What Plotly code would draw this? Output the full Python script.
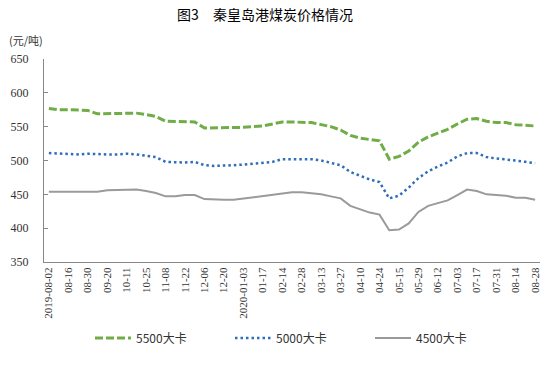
import plotly.graph_objects as go

dates = [
    "2019-08-02", "2019-08-09", "08-16", "08-23", "08-30", "09-06",
    "09-20", "09-27", "10-11", "10-18", "10-25", "11-01",
    "11-08", "11-15", "11-22", "11-29", "12-06", "12-13",
    "12-20", "12-27", "2020-01-03", "01-10", "01-17", "02-07",
    "02-14", "02-21", "02-28", "03-06", "03-13", "03-20",
    "03-27", "04-03", "04-10", "04-17", "04-24", "05-08",
    "05-15", "05-22", "05-29", "06-05", "06-12", "06-19",
    "07-03", "07-10", "07-17", "07-24", "07-31", "08-07",
    "08-14", "08-21", "08-28",
]

kcal5500 = [577, 575, 575, 575, 574, 569, 569, 570, 570, 570, 568, 565,
            558, 558, 558, 557, 548, 548, 548, 549, 549, 550, 551, 554,
            557, 557, 557, 556, 553, 550, 545, 537, 533, 531, 529, 502,
            506, 514, 527, 535, 540, 546, 554, 561, 562, 558, 556, 556,
            553, 552, 551]

kcal5000 = [511, 510, 509, 509, 510, 509, 509, 509, 510, 509, 507, 505,
            498, 497, 497, 498, 493, 492, 492, 493, 494, 495, 496, 498,
            502, 502, 502, 502, 500, 497, 493, 483, 477, 472, 468, 444,
            448, 460, 474, 484, 491, 497, 506, 511, 511, 505, 503, 502,
            500, 498, 496]

kcal4500 = [454, 454, 454, 455, 455, 454, 456, 456, 457, 457, 455, 452,
            447, 447, 449, 449, 443, 442, 442, 442, 444, 445, 447, 449,
            452, 453, 453, 452, 450, 447, 444, 433, 428, 423, 420, 397,
            398, 407, 424, 433, 437, 441, 449, 457, 455, 450, 449, 448,
            445, 445, 442]

tick_labels = dates[::2]

series_names = ["5500大卡", "5000大卡", "4500大卡"]

fig = go.Figure()
fig.add_trace(go.Scatter(x=dates, y=kcal5500, mode="lines", name=series_names[0],
                         line=dict(color="#70AD47", width=3, dash="8px,3px")))
fig.add_trace(go.Scatter(x=dates, y=kcal5000, mode="lines", name=series_names[1],
                         line=dict(color="#2E6DB8", width=2.5, dash="2.5px,3px")))
fig.add_trace(go.Scatter(x=dates, y=kcal4500, mode="lines", name=series_names[2],
                         line=dict(color="#9A9A9A", width=2)))

fig.update_layout(
    width=560, height=366,
    margin=dict(l=44, r=20, t=59, b=104),
    paper_bgcolor="white", plot_bgcolor="white",
    title=dict(text="图3　秦皇岛港煤炭价格情况", x=265/560, xanchor="center",
               y=1-15/366, yanchor="middle", xref="container", yref="container",
               font=dict(family="Noto Sans CJK SC", size=14, color="#000000")),
    showlegend=True,
    legend=dict(orientation="h", x=(90-44)/496, xanchor="left",
                y=(262-338)/203, yanchor="middle",
                entrywidth=89, entrywidthmode="pixels",
                font=dict(family="Noto Sans CJK SC", size=12, color="#333333"),
                bgcolor="rgba(0,0,0,0)", itemwidth=36),
    annotations=[dict(text="(元/吨)", xref="paper", yref="paper",
                      x=(7-44)/496, y=(262-40)/203, xanchor="left", yanchor="middle",
                      showarrow=False,
                      font=dict(family="Noto Sans CJK SC", size=11, color="#333333"))],
)

fig.update_xaxes(type="category", categoryorder="array", categoryarray=dates,
                 range=[-0.5, len(dates)-0.5], automargin=False,
                 tickmode="array", tickvals=tick_labels, ticktext=tick_labels,
                 tickangle=-90, showgrid=False, zeroline=False,
                 showline=True, linecolor="#888888", linewidth=1,
                 ticks="", tickfont=dict(family="Liberation Serif", size=11, color="#333333"))
fig.update_yaxes(range=[350, 650], dtick=50, tick0=350, showgrid=False, zeroline=False,
                 showline=True, linecolor="#888888", linewidth=1, automargin=False,
                 ticks="inside", ticklen=4, tickcolor="#888888",
                 ticklabelstandoff=12,
                 tickfont=dict(family="Liberation Serif", size=12, color="#333333"))

fig.write_html("out.html", config={"displayModeBar": False},
               post_script="document.body.style.margin='0';document.body.style.overflow='hidden';")
